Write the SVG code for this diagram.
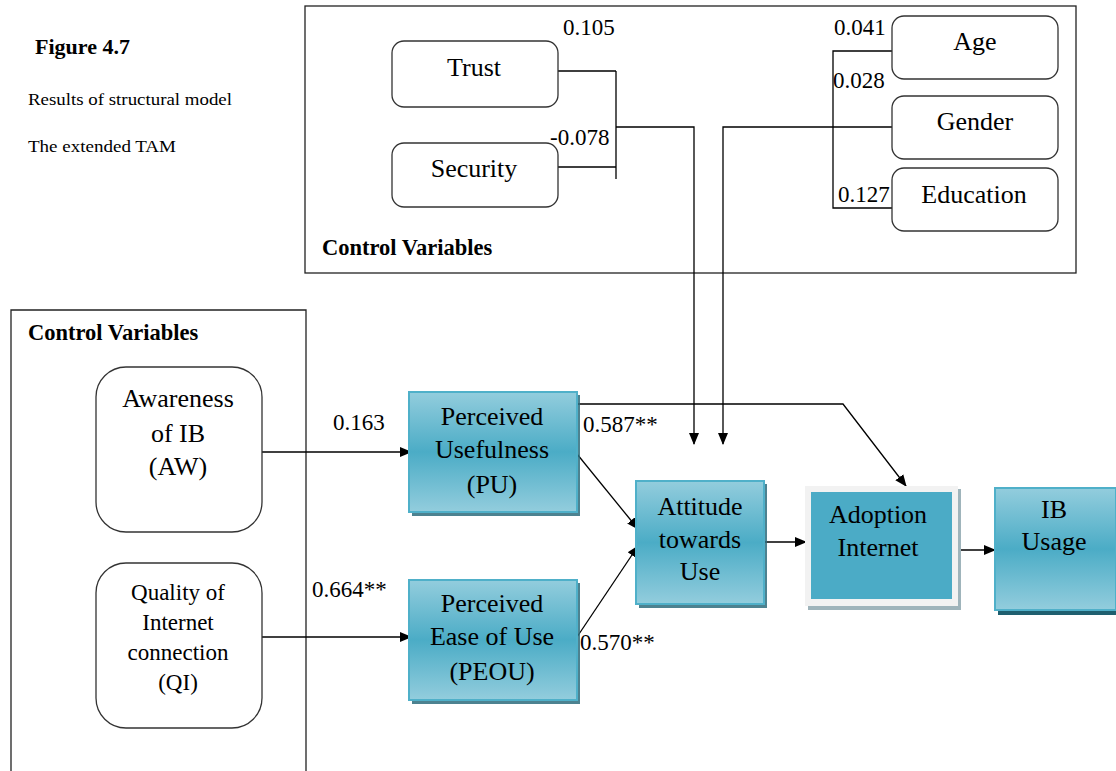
<svg xmlns="http://www.w3.org/2000/svg" width="1116" height="771" viewBox="0 0 1116 771" font-family="Liberation Serif, DejaVu Serif, serif">
<defs>
<linearGradient id="teal" x1="0" y1="0" x2="0" y2="1">
<stop offset="0" stop-color="#93cddd"/>
<stop offset="0.5" stop-color="#4bacc6"/>
<stop offset="1" stop-color="#93cddd"/>
</linearGradient>
<marker id="arr" markerWidth="12" markerHeight="12" refX="11" refY="5" orient="auto" markerUnits="userSpaceOnUse" viewBox="0 0 12 10">
<path d="M0,0 L12,5 L0,10 Z" fill="#000"/>
</marker>
</defs>
<style>
text{font-family:'Liberation Serif','DejaVu Serif',serif;fill:#000}
.lbl{font-size:26px}
.num{font-size:23px}
.rbox{fill:#fff;stroke:#333;stroke-width:1.3}
.frame{fill:none;stroke:#222;stroke-width:1.3}
.tbox{fill:url(#teal);stroke:#4fb0c9;stroke-width:2}
.shadow{fill:#2e6c7c;opacity:0.85}
.conn{fill:none;stroke:#000;stroke-width:1.3}
.bold{font-weight:bold}
</style>
<rect width="1116" height="771" fill="#fff"/>

<g id="caption">
<text x="35" y="54" class="bold" font-size="22">Figure 4.7</text>
<text x="28" y="105" font-size="17" textLength="204" lengthAdjust="spacingAndGlyphs">Results of structural model</text>
<text x="28" y="152" font-size="17" textLength="148" lengthAdjust="spacingAndGlyphs">The extended TAM</text>
</g>

<g id="control-top">
<rect x="305" y="6" width="771" height="267" class="frame"/>
<text x="322" y="255" class="bold" font-size="22.5">Control Variables</text>
</g>
<g id="control-left">
<path d="M11,771 V310 H306 V771" class="frame"/>
<text x="28" y="340" class="bold" font-size="22.5">Control Variables</text>
</g>

<g id="connectors">
<path d="M558,71 H616 M616,71 V179 M558,167 H616" class="conn"/>
<path d="M616,127 H694 V444" class="conn" marker-end="url(#arr)"/>
<path d="M892,51 H833 V208 H892" class="conn"/>
<path d="M892,127 H723 V444" class="conn" marker-end="url(#arr)"/>
<path d="M262,452 H411" class="conn" marker-end="url(#arr)"/>
<path d="M262,637 H411" class="conn" marker-end="url(#arr)"/>
<path d="M577,454 L638,529" class="conn" marker-end="url(#arr)"/>
<path d="M577,637 L638,546" class="conn" marker-end="url(#arr)"/>
<path d="M764,542 H806" class="conn" marker-end="url(#arr)"/>
<path d="M953,550 H995" class="conn" marker-end="url(#arr)"/>
<path d="M577,404 H843 L906,486" class="conn" marker-end="url(#arr)"/>
</g>

<g id="labels">
<text x="563" y="35" class="num">0.105</text>
<text x="550" y="145" class="num">-0.078</text>
<text x="834" y="35" class="num">0.041</text>
<text x="833" y="88" class="num">0.028</text>
<text x="838" y="202" class="num">0.127</text>
<text x="333" y="430" class="num">0.163</text>
<text x="312" y="597" class="num">0.664**</text>
<text x="583" y="432" class="num">0.587**</text>
<text x="580" y="650" class="num">0.570**</text>
</g>

<g id="trust">
<rect x="392" y="41" width="166" height="66" rx="12" class="rbox"/>
<text x="474" y="76" class="lbl" text-anchor="middle">Trust</text>
</g>
<g id="security">
<rect x="392" y="143" width="166" height="64" rx="12" class="rbox"/>
<text x="474" y="177" class="lbl" text-anchor="middle">Security</text>
</g>
<g id="age">
<rect x="892" y="16" width="166" height="63" rx="12" class="rbox"/>
<text x="975" y="50" class="lbl" text-anchor="middle">Age</text>
</g>
<g id="gender">
<rect x="892" y="96" width="166" height="63" rx="12" class="rbox"/>
<text x="975" y="130" class="lbl" text-anchor="middle">Gender</text>
</g>
<g id="education">
<rect x="892" y="168" width="166" height="63" rx="12" class="rbox"/>
<text x="974" y="203" class="lbl" text-anchor="middle">Education</text>
</g>

<g id="aw">
<rect x="96" y="367" width="166" height="165" rx="30" class="rbox"/>
<text x="178" y="407" class="lbl" text-anchor="middle">Awareness</text>
<text x="178" y="442" class="lbl" text-anchor="middle">of IB</text>
<text x="178" y="475" class="lbl" text-anchor="middle">(AW)</text>
</g>
<g id="qi">
<rect x="96" y="563" width="166" height="165" rx="30" class="rbox"/>
<text x="178" y="600" class="num" text-anchor="middle">Quality of</text>
<text x="178" y="630" class="num" text-anchor="middle">Internet</text>
<text x="178" y="660" class="num" text-anchor="middle">connection</text>
<text x="178" y="690" class="num" text-anchor="middle">(QI)</text>
</g>

<g id="pu">
<rect x="412" y="395" width="168" height="121" class="shadow"/>
<rect x="409" y="392" width="168" height="120" class="tbox"/>
<text x="492" y="425" class="lbl" text-anchor="middle">Perceived</text>
<text x="492" y="458" class="lbl" text-anchor="middle">Usefulness</text>
<text x="492" y="493" class="lbl" text-anchor="middle">(PU)</text>
</g>
<g id="peou">
<rect x="412" y="583" width="168" height="121" class="shadow"/>
<rect x="409" y="580" width="168" height="120" class="tbox"/>
<text x="492" y="612" class="lbl" text-anchor="middle">Perceived</text>
<text x="492" y="645" class="lbl" text-anchor="middle">Ease of Use</text>
<text x="492" y="680" class="lbl" text-anchor="middle">(PEOU)</text>
</g>
<g id="attitude">
<rect x="639" y="484" width="128" height="124" class="shadow"/>
<rect x="636" y="481" width="128" height="123" class="tbox"/>
<text x="700" y="515" class="lbl" text-anchor="middle">Attitude</text>
<text x="700" y="548" class="lbl" text-anchor="middle">towards</text>
<text x="700" y="580" class="lbl" text-anchor="middle">Use</text>
</g>
<g id="adoption">
<rect x="808" y="489" width="153" height="121" fill="#9fb4bb"/>
<rect x="805" y="486" width="153" height="120" fill="#f2f2f2"/>
<rect x="811" y="492" width="141" height="107" fill="#4babc6"/>
<text x="878" y="523" class="lbl" text-anchor="middle">Adoption</text>
<text x="878" y="556" class="lbl" text-anchor="middle">Internet</text>
</g>
<g id="ib-usage">
<rect x="998" y="492" width="120" height="123" fill="#1f5f6f"/>
<rect x="995" y="488" width="121" height="122" class="tbox"/>
<text x="1054" y="518" class="lbl" text-anchor="middle">IB</text>
<text x="1054" y="550" class="lbl" text-anchor="middle" font-size="24">Usage</text>
</g>
</svg>
